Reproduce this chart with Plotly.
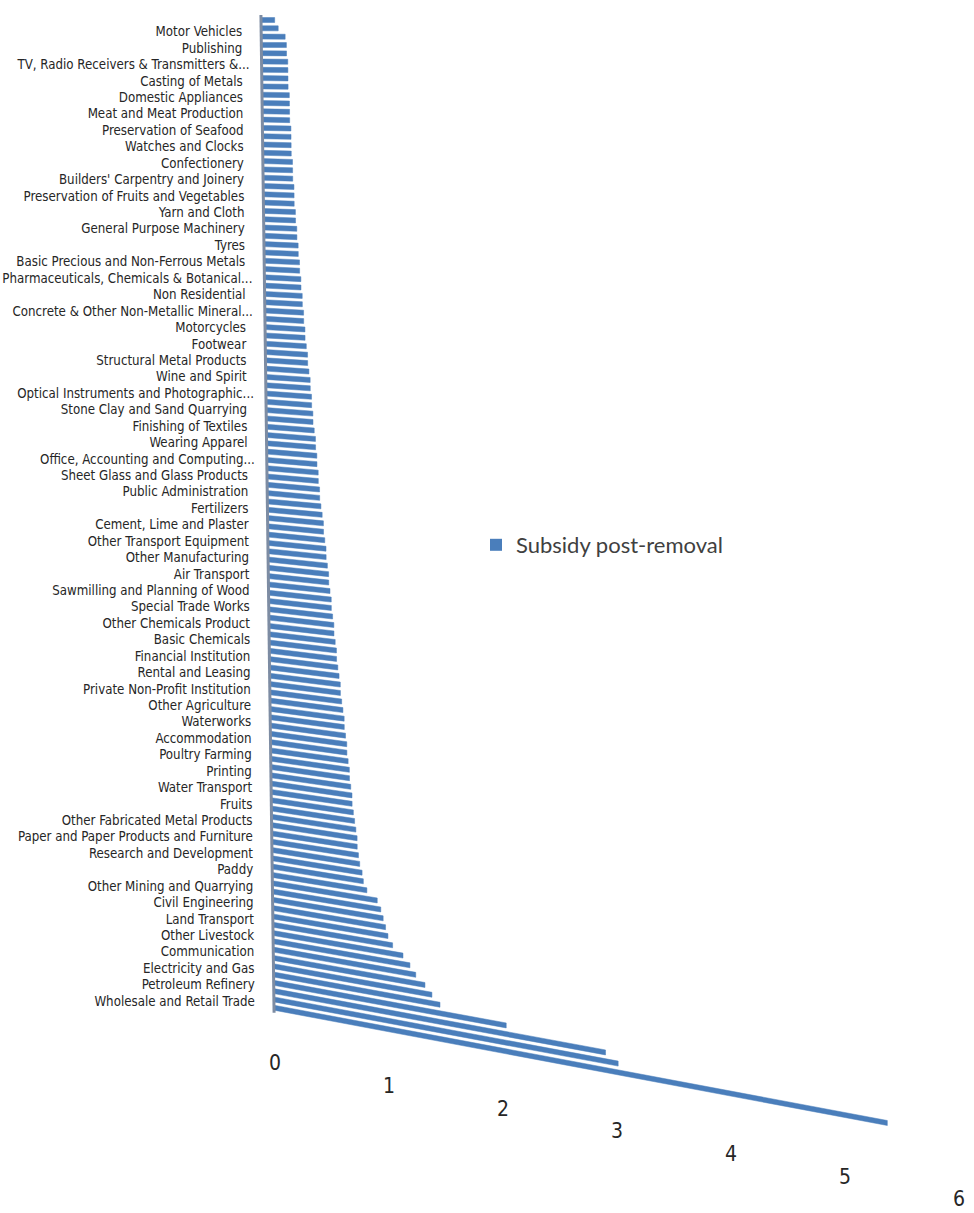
import plotly.graph_objects as go

# Categories that carry a visible label (every second bar, top to bottom)
labels = [
    "Motor Vehicles", "Publishing", "TV, Radio Receivers & Transmitters &...",
    "Casting of Metals", "Domestic Appliances", "Meat and Meat Production",
    "Preservation of Seafood", "Watches and Clocks", "Confectionery",
    "Builders' Carpentry and Joinery", "Preservation of Fruits and Vegetables",
    "Yarn and Cloth", "General Purpose Machinery", "Tyres",
    "Basic Precious and Non-Ferrous Metals",
    "Pharmaceuticals, Chemicals & Botanical...", "Non Residential",
    "Concrete & Other Non-Metallic Mineral...", "Motorcycles", "Footwear",
    "Structural Metal Products", "Wine and Spirit",
    "Optical Instruments and Photographic...", "Stone Clay and Sand Quarrying",
    "Finishing of Textiles", "Wearing Apparel",
    "Office, Accounting and Computing...", "Sheet Glass and Glass Products",
    "Public Administration", "Fertilizers", "Cement, Lime and Plaster",
    "Other Transport Equipment", "Other Manufacturing", "Air Transport",
    "Sawmilling and Planning of Wood", "Special Trade Works",
    "Other Chemicals Product", "Basic Chemicals", "Financial Institution",
    "Rental and Leasing", "Private Non-Profit Institution", "Other Agriculture",
    "Waterworks", "Accommodation", "Poultry Farming", "Printing",
    "Water Transport", "Fruits", "Other Fabricated Metal Products",
    "Paper and Paper Products and Furniture", "Research and Development",
    "Paddy", "Other Mining and Quarrying", "Civil Engineering",
    "Land Transport", "Other Livestock", "Communication",
    "Electricity and Gas", "Petroleum Refinery", "Wholesale and Retail Trade",
]

# Subsidy post-removal, one value per bar, top bar first
values = [
    0.12, 0.15, 0.21, 0.22, 0.22, 0.23, 0.23, 0.23, 0.23, 0.24,
    0.24, 0.24, 0.24, 0.25, 0.25, 0.25, 0.25, 0.26, 0.26, 0.26,
    0.27, 0.27, 0.27, 0.28, 0.28, 0.29, 0.29, 0.30, 0.30, 0.31,
    0.31, 0.32, 0.32, 0.33, 0.33, 0.34, 0.34, 0.35, 0.35, 0.36,
    0.37, 0.37, 0.38, 0.39, 0.39, 0.40, 0.40, 0.41, 0.41, 0.42,
    0.43, 0.43, 0.44, 0.44, 0.45, 0.45, 0.46, 0.46, 0.47, 0.48,
    0.49, 0.49, 0.50, 0.51, 0.51, 0.52, 0.53, 0.53, 0.54, 0.55,
    0.55, 0.56, 0.57, 0.57, 0.58, 0.59, 0.59, 0.60, 0.61, 0.62,
    0.62, 0.63, 0.64, 0.65, 0.65, 0.66, 0.67, 0.67, 0.68, 0.69,
    0.69, 0.70, 0.71, 0.71, 0.72, 0.73, 0.74, 0.75, 0.75, 0.76,
    0.77, 0.79, 0.80, 0.83, 0.92, 0.95, 0.97, 0.99, 1.01, 1.05,
    1.14, 1.20, 1.25, 1.33, 1.39, 1.46, 2.04, 2.91, 3.02, 5.38,
]

tick_values = [0, 1, 2, 3, 4, 5, 6]
series_name = "Subsidy post-removal"

# ---- oblique (3-D style) projection settings ----
W, H = 974, 1213
PX_PER_UNIT = 114.0      # horizontal pixels per value unit
PX_PER_ROW = 8.30        # vertical pixels between bars
ROW0_PX = 20.0           # pixel row of the top bar
AXIS_X_TOP = 261.0       # category axis leans slightly to the right
AXIS_X_BOTTOM = 274.0
HORIZON_PX = 10.0        # bars flatten out towards this height
SLOPE_BOTTOM = 0.188     # downward slope of the lowest bar
BAR_HALF = 0.30          # half bar thickness, in rows
BAR_COLOR = "#4a7ebb"
LABEL_FONT = "Liberation Sans Narrow, DejaVu Sans Condensed, Liberation Sans"

n = len(values)
last = n - 1
bottom_px = ROW0_PX + last * PX_PER_ROW


def base_x(r):
    """x (value units) of the category axis at row r."""
    px = AXIS_X_TOP + (AXIS_X_BOTTOM - AXIS_X_TOP) * r / last
    return (px - AXIS_X_BOTTOM) / PX_PER_UNIT


def drop(r):
    """rows descended per value unit at row r."""
    y_px = ROW0_PX + r * PX_PER_ROW
    s = SLOPE_BOTTOM * (y_px - HORIZON_PX) / (bottom_px - HORIZON_PX)
    return s * PX_PER_UNIT / PX_PER_ROW


fig = go.Figure()

# bars as slanted ribbons
bx, by = [], []
for r, v in enumerate(values):
    x0 = base_x(r)
    d = drop(r) * v
    bx += [x0, x0 + v, x0 + v, x0, x0, None]
    by += [r - BAR_HALF, r + d - BAR_HALF, r + d + BAR_HALF, r + BAR_HALF, r - BAR_HALF, None]
fig.add_trace(go.Scatter(
    x=bx, y=by, mode="lines", fill="toself", fillcolor=BAR_COLOR,
    line=dict(color=BAR_COLOR, width=0.5), showlegend=False, hoverinfo="skip",
))

# category axis line
fig.add_trace(go.Scatter(
    x=[base_x(-0.6), base_x(last + 0.6)], y=[-0.6, last + 0.6], mode="lines",
    line=dict(color="#7d8ca3", width=3), showlegend=False, hoverinfo="skip",
))

# category labels (every second bar, starting from the bottom);
# truncated names let their ellipsis run a little closer to the axis
lab_rows = [1 + 2 * i + 0.57 - 0.0204 * i for i in range(len(labels))]
lab_gaps = [(12 if name.endswith("...") else 19) / PX_PER_UNIT for name in labels]
fig.add_trace(go.Scatter(
    x=[base_x(r) - g for r, g in zip(lab_rows, lab_gaps)], y=lab_rows, mode="text",
    text=labels, textposition="middle left",
    textfont=dict(family=LABEL_FONT, size=13.2, color="#262626"),
    showlegend=False, hoverinfo="skip",
))

# value axis tick labels along the receding floor edge
tick_row = (1065 - ROW0_PX) / PX_PER_ROW
tick_drop = SLOPE_BOTTOM * (1065 - HORIZON_PX) / (bottom_px - HORIZON_PX) * PX_PER_UNIT / PX_PER_ROW
fig.add_trace(go.Scatter(
    x=[t + 1 / PX_PER_UNIT for t in tick_values],
    y=[tick_row + tick_drop * t for t in tick_values],
    mode="text", text=[str(t) for t in tick_values], textposition="middle center",
    textfont=dict(family=LABEL_FONT, size=21, color="#262626"),
    showlegend=False, hoverinfo="skip",
))

# legend entry
fig.add_trace(go.Scatter(
    x=[None], y=[None], mode="markers", name=series_name,
    marker=dict(symbol="square", size=12, color=BAR_COLOR),
))

fig.update_layout(
    width=W, height=H, margin=dict(l=0, r=0, t=0, b=0),
    paper_bgcolor="white", plot_bgcolor="white",
    xaxis=dict(visible=False, range=[-AXIS_X_BOTTOM / PX_PER_UNIT, (W - AXIS_X_BOTTOM) / PX_PER_UNIT]),
    yaxis=dict(visible=False, range=[(H - ROW0_PX) / PX_PER_ROW, -ROW0_PX / PX_PER_ROW]),
    showlegend=True,
    legend=dict(x=476 / W, y=1 - 545 / H, xanchor="left", yanchor="middle",
                bgcolor="rgba(0,0,0,0)",
                font=dict(family="Lato, Open Sans, sans-serif", size=22, color="#404040")),
)

fig.write_html("out.html")
